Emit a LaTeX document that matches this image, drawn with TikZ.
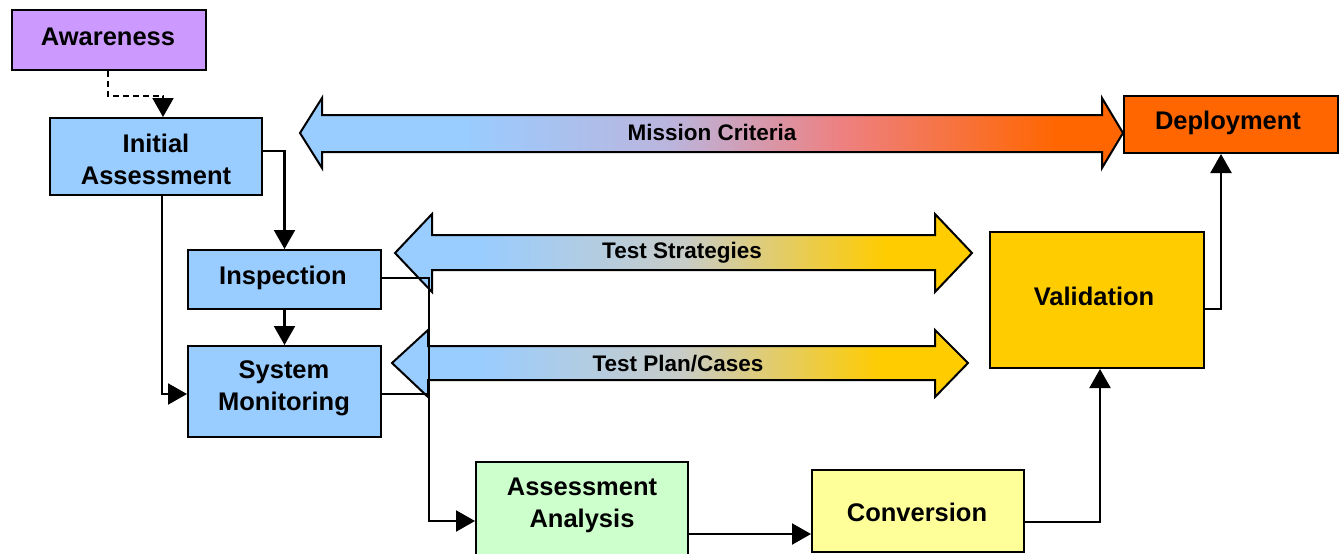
\documentclass[tikz,border=0pt]{standalone}
\usepackage{fontspec}
\setmainfont{Liberation Sans}
\usetikzlibrary{arrows.meta}
\definecolor{cAware}{HTML}{CC99FF}
\definecolor{cBlue}{HTML}{99CCFF}
\definecolor{cAA}{HTML}{CCFFCC}
\definecolor{cConv}{HTML}{FFFF99}
\definecolor{cValid}{HTML}{FFCC00}
\definecolor{cDeploy}{HTML}{FF6600}
\definecolor{cMidA}{HTML}{BBB5DD}
\definecolor{cMidB}{HTML}{EE8080}
\definecolor{cMidT}{HTML}{C8CCC8}
\pgfdeclarehorizontalshading{missionshade}{100bp}{color(0bp)=(cBlue); color(35bp)=(cBlue); color(47.5bp)=(cMidA); color(58bp)=(cMidB); color(71bp)=(cDeploy); color(100bp)=(cDeploy)}
\pgfdeclarehorizontalshading{testshade}{100bp}{color(0bp)=(cBlue); color(32.5bp)=(cBlue); color(50bp)=(cMidT); color(67.5bp)=(cValid); color(100bp)=(cValid)}
\begin{document}
\begin{tikzpicture}[x=1pt,y=-1pt,
  box/.style={draw, line width=2pt, inner sep=0pt, align=center,
    font=\fontsize{25.5}{32}\selectfont\bfseries},
  boxtext/.style={inner sep=0pt, align=center, font=\fontsize{25.5}{32}\selectfont\bfseries},
  lab/.style={inner sep=0pt, font=\fontsize{22.5}{26}\selectfont\bfseries},
  conn/.style={line width=2.1pt, -{Triangle[width=21pt,length=19pt]}},
  plainline/.style={line width=2.1pt},
  band/.style={draw, line width=2pt, line join=miter}]
\fill[white] (0,0) rectangle (1341,554);
\useasboundingbox (0,0) rectangle (1341,554);

% double arrows
\shadedraw[band, shading=missionshade] (300,133) -- (322,98) -- (322,115) -- (1102,115) -- (1102,98)
  -- (1123,133) -- (1102,168) -- (1102,152) -- (322,152) -- (322,168) -- cycle;
\node[lab] (mission) at (712,132) {Mission Criteria};
\shadedraw[band, shading=testshade] (395,253) -- (432,214) -- (432,235) -- (935,235) -- (935,214)
  -- (972,253) -- (935,292) -- (935,270) -- (432,270) -- (432,292) -- cycle;
\node[lab] (strat) at (682,253) {Test Strategies};
\shadedraw[band, shading=testshade] (392,363) -- (428,330) -- (428,346) -- (935,346) -- (935,330)
  -- (968,363) -- (935,397) -- (935,380) -- (428,380) -- (428,397) -- cycle;
\node[lab] (plan) at (678,363.5) {Test Plan/Cases};

% boxes
\node[box, fill=cAware, minimum width=194pt, minimum height=60pt] (aware) at (109,40) {};
\node[boxtext] (awaretext) at (108,37) {Awareness};
\node[box, fill=cBlue, minimum width=212pt, minimum height=77pt] (init) at (156,156.5) {};
\node[boxtext] (inittext) at (156,159) {Initial\\Assessment};
\node[box, fill=cBlue, minimum width=193pt, minimum height=59pt] (insp) at (284.5,279.5) {};
\node[boxtext] (insptext) at (283,278) {Inspection};
\node[box, fill=cBlue, minimum width=193pt, minimum height=91pt] (sysmon) at (284.5,391.5) {};
\node[boxtext] (sysmontext) at (284,388.5) {System\\Monitoring};
\node[box, fill=cAA, minimum width=212pt, minimum height=100pt] (aa) at (582,512) {};
\node[boxtext] (aatext) at (582,505) {Assessment\\Analysis};
\node[box, fill=cConv, minimum width=212pt, minimum height=82pt] (conv) at (918,511) {};
\node[boxtext] (convtext) at (917,512) {Conversion};
\node[box, fill=cValid, minimum width=214pt, minimum height=136pt] (valid) at (1097,300) {};
\node[boxtext] (validtext) at (1094,296) {Validation};
\node[box, fill=cDeploy, minimum width=214pt, minimum height=57pt] (deploy) at (1231,124.5) {};
\node[boxtext] (deploytext) at (1228,123) {Deployment};

% connectors
\draw[conn, dash pattern=on 6pt off 4pt] ([xshift=-1pt]aware.south) -- ++(0,25) -| ([xshift=7pt]init.north);
\draw[conn] ([yshift=5.5pt]init.east) -| (insp.north);
\draw[conn] ([xshift=6pt]init.south) |- ([yshift=-2.5pt]sysmon.west);
\draw[conn] (insp.south) -- (sysmon.north);
\draw[conn] ([yshift=1.5pt]insp.east) -- ++(47,0) |- ([yshift=-9pt]aa.west);
\draw[plainline] ([yshift=-2.5pt]sysmon.east) -- ++(47,0);
\draw[conn] ([yshift=-22pt]aa.east) -- ([yshift=-23pt]conv.west);
\draw[conn] ([yshift=-11pt]conv.east) -| ([xshift=3pt]valid.south);
\draw[conn] ([yshift=-9pt]valid.east) -| ([xshift=-10pt]deploy.south);
\end{tikzpicture}
\end{document}
